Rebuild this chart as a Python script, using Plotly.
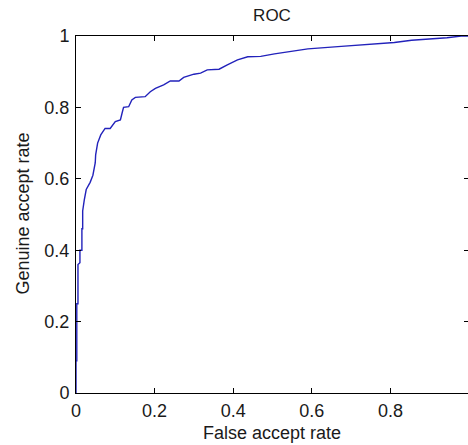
import plotly.graph_objects as go

# ROC curve
far = [0.0, 0.0, 0.002, 0.002, 0.005, 0.005, 0.01, 0.01, 0.015, 0.015, 0.017, 0.017,
       0.021, 0.026, 0.036, 0.043, 0.049, 0.05, 0.055, 0.063, 0.074, 0.087, 0.10,
       0.113, 0.117, 0.121, 0.134, 0.142, 0.151, 0.176, 0.189, 0.202, 0.223, 0.24,
       0.262, 0.274, 0.30, 0.317, 0.334, 0.364, 0.385, 0.411, 0.437, 0.47, 0.505,
       0.556, 0.59, 0.675, 0.718, 0.76, 0.81, 0.854, 0.897, 0.944, 0.98, 1.0]
gar = [0.0, 0.09, 0.09, 0.25, 0.25, 0.36, 0.365, 0.40, 0.40, 0.46, 0.46, 0.51,
       0.54, 0.57, 0.59, 0.61, 0.645, 0.667, 0.70, 0.723, 0.741, 0.741, 0.76,
       0.765, 0.783, 0.80, 0.802, 0.821, 0.828, 0.83, 0.844, 0.853, 0.863, 0.874,
       0.874, 0.884, 0.893, 0.896, 0.905, 0.907, 0.919, 0.933, 0.942, 0.943, 0.95,
       0.958, 0.964, 0.971, 0.974, 0.978, 0.982, 0.988, 0.991, 0.995, 1.0, 1.0]

tick_vals = [0, 0.2, 0.4, 0.6, 0.8, 1]
tick_text = ["0", "0.2", "0.4", "0.6", "0.8", "1"]

FONT = "Liberation Sans, Arial, sans-serif"
TXT = "#1a1a1a"
W, H = 469, 445
L, T, B = 76, 36, 52
PW = W - L

fig = go.Figure()
fig.add_trace(go.Scatter(x=far, y=gar, mode="lines",
                         line=dict(color="#2222bb", width=1.4),
                         showlegend=False, hoverinfo="skip"))

axis_common = dict(
    showgrid=False, zeroline=False, showline=True, linecolor="#000000",
    linewidth=1, mirror="ticks", ticks="inside", ticklen=5, tickcolor="#000000",
    tickvals=tick_vals, ticktext=tick_text, automargin=False,
    tickfont=dict(family=FONT, size=18, color=TXT),
)

fig.update_layout(
    width=W, height=H,
    margin=dict(l=L, r=0, t=T, b=B, autoexpand=False),
    paper_bgcolor="#ffffff", plot_bgcolor="#ffffff",
    title=dict(text="ROC", x=272 / W, xanchor="center", y=1 - 15 / H,
               yanchor="middle", font=dict(family=FONT, size=17, color=TXT)),
    xaxis=dict(range=[0, 1], ticklabelstandoff=1, **axis_common),
    yaxis=dict(range=[0, 1], ticklabelstandoff=2, **axis_common),
    annotations=[
        dict(text="False accept rate", xref="paper", yref="paper",
             x=(272 - L) / PW, y=(393 - 433) / 357, xanchor="center", yanchor="middle",
             showarrow=False, font=dict(family=FONT, size=18, color=TXT)),
        dict(text="Genuine accept rate", xref="paper", yref="paper",
             x=(22.5 - L) / PW, y=(393 - 214) / 357, xanchor="center",
             yanchor="middle", textangle=-90, showarrow=False,
             font=dict(family=FONT, size=18, color=TXT)),
    ],
)

fig.write_html("out.html",
               config={"displayModeBar": False, "staticPlot": True},
               post_script="document.body.style.margin='0';"
                           "document.body.style.overflow='hidden';")
